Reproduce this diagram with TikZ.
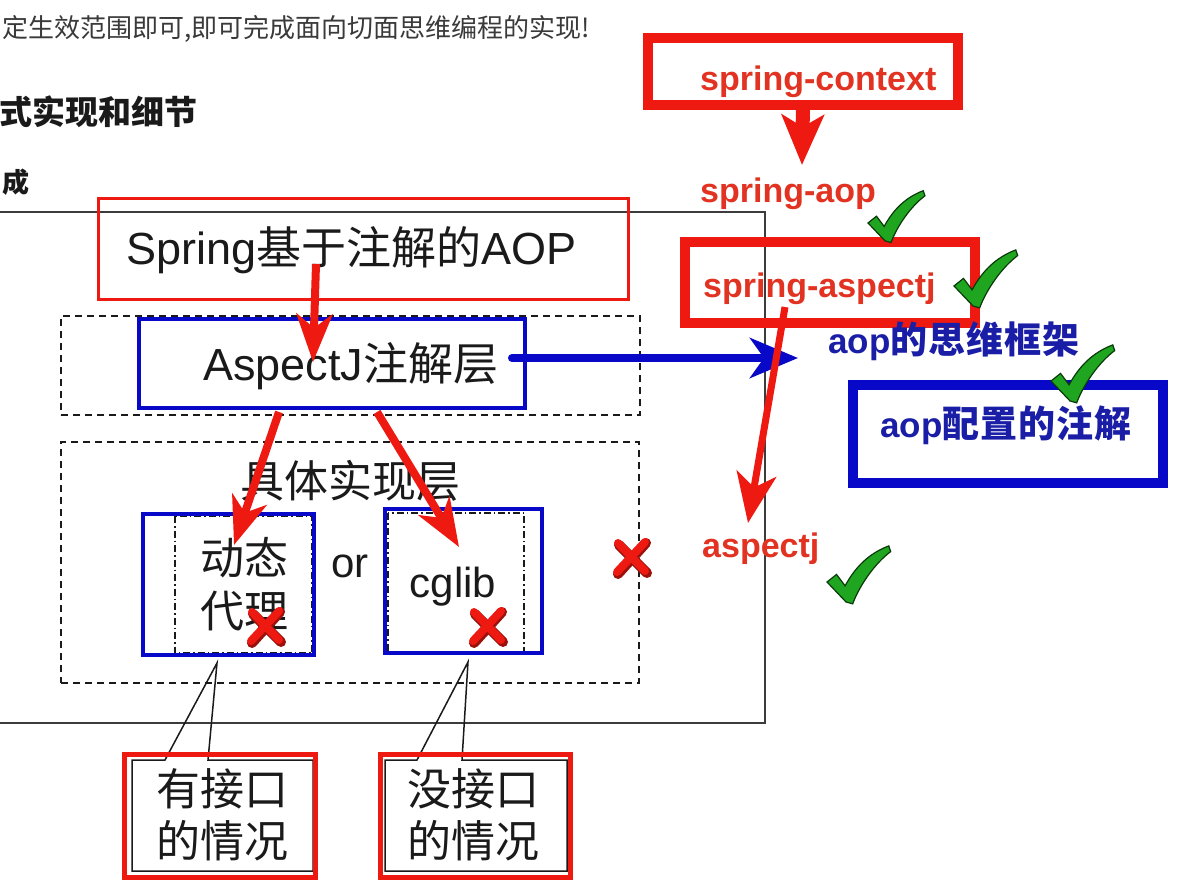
\documentclass[tikz,border=0pt]{standalone}
\usepackage{fontspec}
\setmainfont{Liberation Sans}
\newfontfamily\cjk{Noto Sans CJK SC}
\usetikzlibrary{arrows.meta}
\definecolor{xred}{HTML}{EE1A12}
\definecolor{lblred}{HTML}{E23222}
\definecolor{xblue}{HTML}{0808C8}
\definecolor{lblblue}{HTML}{1A1EA6}
\definecolor{ckgreen}{HTML}{1FA51F}
\definecolor{ckdark}{HTML}{0A3A0A}
\definecolor{ink}{HTML}{1A1A1A}
\definecolor{gray1}{HTML}{3A3A3A}
\newcommand\myfs[1]{\fontsize{#1}{#1}\selectfont}
\begin{document}
\begin{tikzpicture}[x=1pt,y=-1pt,
  redbox/.style={draw=xred, line width=3pt, inner sep=0pt},
  bluebox/.style={draw=xblue, line width=4pt, inner sep=0pt},
  dashbox/.style={draw=ink, line width=1.5pt, dash pattern=on 7pt off 5pt, inner sep=0pt},
  dashdotbox/.style={draw=ink, line width=1.2pt, dash pattern=on 7pt off 3pt on 1.5pt off 3pt},
  fatred/.style={draw=xred, line width=10pt, inner sep=0pt},
  fatblue/.style={draw=xblue, line width=10pt, inner sep=0pt},
  txt/.style={inner sep=0pt, anchor=base, text=ink},
  lbl/.style={inner sep=0pt, anchor=base west, font=\myfs{34}\bfseries, text=lblred},
  bluelbl/.style={inner sep=0pt, anchor=base west, text=lblblue},
  redarrow/.style={draw=xred, line width=8pt, -{Stealth[length=48pt,width=36pt,inset=14pt]}},
  bluearrow/.style={draw=xblue, line width=8pt, line cap=round, -{Stealth[length=48pt,width=40pt,inset=14pt]}},
  callout/.style={draw=ink, line width=1.5pt},
  calloutred/.style={draw=xred, line width=5pt, inner sep=0pt},
  checkmk/.pic={\filldraw[fill=ckgreen, draw=ckdark, line width=1.2pt]
     (0,1) -- (-20,-20) -- (-10,-28) -- (-1,-16) .. controls (10,-36) and (24,-50) .. (45,-58)
     -- (47,-52) .. controls (31,-40) and (15,-18) .. (7,3) -- cycle;},
  xmk/.pic={\draw[draw=xred!65!black, line width=10pt, line cap=round] (-13,-13) -- (15,15) (14,-15) -- (-14,16);
     \draw[draw=xred, line width=8pt, line cap=round] (-14,-15) -- (13,13) (13,-16) -- (-15,14);}
]
\clip (0,0) rectangle (1185,881);
\fill[white] (0,0) rectangle (1185,881);

% page text
\node[anchor=base west, inner sep=0pt, font=\cjk\myfs{26}, text=gray1] (top) at (2,37) {定生效范围即可,即可完成面向切面思维编程的实现!};
\node[anchor=base east, inner sep=0pt, font=\cjk\bfseries\myfs{33}, text=ink] (h1) at (198,124) {式实现和细节};
\node[anchor=base east, inner sep=0pt, font=\cjk\bfseries\myfs{27}, text=ink] (h2) at (30,192) {成};

% outer frame
\draw[line width=1.8pt, draw=ink!85] (-10,212) rectangle (765,723);

% layers
\node[dashbox, minimum width=579pt, minimum height=99pt] (dash1) at (350.5,365.5) {};
\node[dashbox, minimum width=578pt, minimum height=241pt] (dash2) at (350,562.5) {};
\node[redbox, minimum width=530pt, minimum height=101pt] (spring) at (363.5,249) {};
\node[bluebox, minimum width=386pt, minimum height=89pt] (aspj) at (332,363.5) {};
\draw[dashdotbox] (175,516) rectangle (312,653);
\draw[dashdotbox] (388,513) rectangle (524,653);
\node[bluebox, line width=3.5pt, minimum width=171pt, minimum height=141pt] (dyn) at (228.5,584.5) {};
\node[bluebox, line width=3.5pt, minimum width=157pt, minimum height=144pt] (cg) at (463.5,581) {};

\node[txt, anchor=base west, font=\myfs{45}] (springT) at (126,264) {Spring{\cjk 基于注解的}AOP};
\node[txt, anchor=base west, font=\myfs{45}] (aspjT) at (203,380) {AspectJ{\cjk 注解层}};
\node[txt, font=\cjk\myfs{44}] (implT) at (350,497) {具体实现层};
\node[txt, font=\cjk\myfs{44}] (dynA) at (244,574) {动态};
\node[txt, font=\cjk\myfs{44}] (dynB) at (244,627) {代理};
\node[txt, font=\myfs{42}] (orT) at (350,577) {or};
\node[txt, font=\myfs{42}] (cgT) at (453,597) {cglib};

% callouts
\draw[callout] (132,760) -- (165,760) -- (217,663) -- (208,760) -- (313,760) -- (313,871) -- (132,871) -- cycle;
\draw[callout] (385,760) -- (417,760) -- (468,662) -- (462,760) -- (567,760) -- (567,871) -- (385,871) -- cycle;
\node[calloutred, minimum width=191pt, minimum height=123pt] (c1) at (220,816) {};
\node[calloutred, minimum width=190pt, minimum height=123pt] (c2) at (475.5,816) {};
\node[txt, font=\cjk\myfs{44}] (c1a) at (222,805) {有接口};
\node[txt, font=\cjk\myfs{44}] (c1b) at (222,857) {的情况};
\node[txt, font=\cjk\myfs{44}] (c2a) at (473,805) {没接口};
\node[txt, font=\cjk\myfs{44}] (c2b) at (473,857) {的情况};

% right side
\node[fatred, minimum width=310pt, minimum height=67pt] (ctx) at (803,71.5) {};
\node[fatred, minimum width=290pt, minimum height=81pt] (sasp) at (830,282.5) {};
\node[fatblue, minimum width=310pt, minimum height=98pt] (anno) at (1008,434) {};
\node[lbl] (ctxT) at (700,90) {spring-context};
\node[lbl] (aopT) at (700,202) {spring-aop};
\node[lbl] (saspT) at (703,297) {spring-aspectj};
\node[lbl] (ajT) at (702,557) {aspectj};
\node[bluelbl] (frameT) at (828,353) {{\myfs{35}\bfseries aop}{\cjk\bfseries\myfs{37}的\hspace{1pt}思\hspace{1pt}维\hspace{1pt}框\hspace{1pt}架}};
\node[bluelbl] (annoT) at (880,437) {{\myfs{35}\bfseries aop}{\cjk\bfseries\myfs{37}配\hspace{1pt}置\hspace{1pt}的\hspace{1pt}注\hspace{1pt}解}};

% connectors
\coordinate (a1s) at (316,264); \coordinate (a1e) at (313,362);
\coordinate (a2s) at (279,412); \coordinate (a2e) at (234,545);
\coordinate (a3s) at (377,412); \coordinate (a3e) at (459,547);
\coordinate (b1s) at (512,358); \coordinate (b1e) at (798,358);
\coordinate (r1s) at (803,105); \coordinate (r1e) at (802,165);
\coordinate (r2s) at (785,307); \coordinate (r2e) at (748,523);
\draw[redarrow] (a1s) -- (a1e);
\draw[redarrow] (a2s) -- (a2e);
\draw[redarrow] (a3s) -- (a3e);
\draw[bluearrow] (b1s) -- (b1e);
\draw[draw=xred, line width=14pt, -{Stealth[length=50pt,width=42pt,inset=12pt]}] (r1s) -- (r1e);
\draw[draw=xred, line width=7pt, -{Stealth[length=50pt,width=40pt,inset=14pt]}] (r2s) -- (r2e);

% marks
\pic at (266,627) {xmk};
\pic at (488,627) {xmk};
\pic at (632,558) {xmk};
\pic[scale=0.85] at (885,240) {checkmk};
\pic[scale=0.95] at (973,305) {checkmk};
\pic[scale=0.95] at (1070,400) {checkmk};
\pic[scale=0.95] at (846,601) {checkmk};
\end{tikzpicture}
\end{document}
